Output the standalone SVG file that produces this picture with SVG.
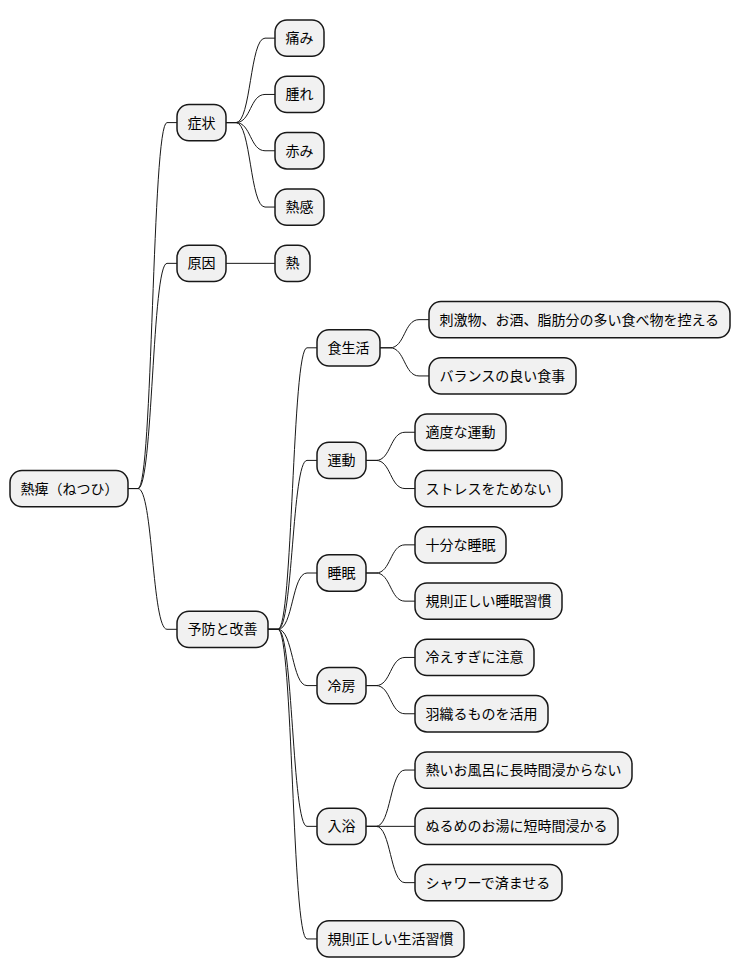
<svg xmlns="http://www.w3.org/2000/svg" width="740" height="978" viewBox="0 0 740 978">
<style>
.n rect{fill:#F1F1F1;stroke:#181818;stroke-width:1.5}
.n text{font-family:"Noto Sans CJK JP","Noto Sans",sans-serif;font-size:14px;fill:#000}
#connectors path{fill:none;stroke:#181818;stroke-width:1}
</style>
<rect width="740" height="978" fill="#FFFFFF"/>
<g id="connectors">
<path d="M128,488.55 L138,488.55 C153,488.55 152,122.6 167,122.6 L177,122.6"/>
<path d="M128,488.55 L138,488.55 C153,488.55 152,263.35 167,263.35 L177,263.35"/>
<path d="M128,488.55 L138,488.55 C153,488.55 152,629.3 167,629.3 L177,629.3"/>
<path d="M226,122.6 L236,122.6 C251,122.6 250,38.15 265,38.15 L275,38.15"/>
<path d="M226,122.6 L236,122.6 C251,122.6 250,94.45 265,94.45 L275,94.45"/>
<path d="M226,122.6 L236,122.6 C251,122.6 250,150.75 265,150.75 L275,150.75"/>
<path d="M226,122.6 L236,122.6 C251,122.6 250,207.05 265,207.05 L275,207.05"/>
<path d="M226,263.35 L275,263.35"/>
<path d="M268,629.3 L278,629.3 C293,629.3 292,347.8 307,347.8 L317,347.8"/>
<path d="M268,629.3 L278,629.3 C293,629.3 292,460.4 307,460.4 L317,460.4"/>
<path d="M268,629.3 L278,629.3 C293,629.3 292,573 307,573 L317,573"/>
<path d="M268,629.3 L278,629.3 C293,629.3 292,685.6 307,685.6 L317,685.6"/>
<path d="M268,629.3 L278,629.3 C293,629.3 292,826.35 307,826.35 L317,826.35"/>
<path d="M268,629.3 L278,629.3 C293,629.3 292,938.95 307,938.95 L317,938.95"/>
<path d="M380,347.8 L390,347.8 C405,347.8 404,319.65 419,319.65 L429,319.65"/>
<path d="M380,347.8 L390,347.8 C405,347.8 404,375.95 419,375.95 L429,375.95"/>
<path d="M366,460.4 L376,460.4 C391,460.4 390,432.25 405,432.25 L415,432.25"/>
<path d="M366,460.4 L376,460.4 C391,460.4 390,488.55 405,488.55 L415,488.55"/>
<path d="M366,573 L376,573 C391,573 390,544.85 405,544.85 L415,544.85"/>
<path d="M366,573 L376,573 C391,573 390,601.15 405,601.15 L415,601.15"/>
<path d="M366,685.6 L376,685.6 C391,685.6 390,657.45 405,657.45 L415,657.45"/>
<path d="M366,685.6 L376,685.6 C391,685.6 390,713.75 405,713.75 L415,713.75"/>
<path d="M366,826.35 L376,826.35 C391,826.35 390,770.05 405,770.05 L415,770.05"/>
<path d="M366,826.35 L415,826.35"/>
<path d="M366,826.35 L376,826.35 C391,826.35 390,882.65 405,882.65 L415,882.65"/>
</g>
<g id="root" class="n"><rect x="10" y="470.4" width="118" height="36.3" rx="12"/><text x="20.5" y="493.5">熱痺（ねつひ）</text></g>
<g id="n1" class="n"><rect x="177" y="104.45" width="49" height="36.3" rx="12"/><text x="187.5" y="127.6">症状</text></g>
<g id="n1a" class="n"><rect x="275" y="20" width="49" height="36.3" rx="12"/><text x="285.5" y="43.1">痛み</text></g>
<g id="n1b" class="n"><rect x="275" y="76.3" width="49" height="36.3" rx="12"/><text x="285.5" y="99.4">腫れ</text></g>
<g id="n1c" class="n"><rect x="275" y="132.6" width="49" height="36.3" rx="12"/><text x="285.5" y="155.7">赤み</text></g>
<g id="n1d" class="n"><rect x="275" y="188.9" width="49" height="36.3" rx="12"/><text x="285.5" y="212">熱感</text></g>
<g id="n2" class="n"><rect x="177" y="245.2" width="49" height="36.3" rx="12"/><text x="187.5" y="268.3">原因</text></g>
<g id="n2a" class="n"><rect x="275" y="245.2" width="35" height="36.3" rx="12"/><text x="285.5" y="268.3">熱</text></g>
<g id="n3" class="n"><rect x="177" y="611.15" width="91" height="36.3" rx="12"/><text x="187.5" y="634.3">予防と改善</text></g>
<g id="n3a" class="n"><rect x="317" y="329.65" width="63" height="36.3" rx="12"/><text x="327.5" y="352.8">食生活</text></g>
<g id="n3a1" class="n"><rect x="429" y="301.5" width="301" height="36.3" rx="12"/><text x="439.5" y="324.6">刺激物、お酒、脂肪分の多い食べ物を控える</text></g>
<g id="n3a2" class="n"><rect x="429" y="357.8" width="147" height="36.3" rx="12"/><text x="439.5" y="380.9">バランスの良い食事</text></g>
<g id="n3b" class="n"><rect x="317" y="442.25" width="49" height="36.3" rx="12"/><text x="327.5" y="465.4">運動</text></g>
<g id="n3b1" class="n"><rect x="415" y="414.1" width="91" height="36.3" rx="12"/><text x="425.5" y="437.2">適度な運動</text></g>
<g id="n3b2" class="n"><rect x="415" y="470.4" width="147" height="36.3" rx="12"/><text x="425.5" y="493.5">ストレスをためない</text></g>
<g id="n3c" class="n"><rect x="317" y="554.85" width="49" height="36.3" rx="12"/><text x="327.5" y="578">睡眠</text></g>
<g id="n3c1" class="n"><rect x="415" y="526.7" width="91" height="36.3" rx="12"/><text x="425.5" y="549.8">十分な睡眠</text></g>
<g id="n3c2" class="n"><rect x="415" y="583" width="147" height="36.3" rx="12"/><text x="425.5" y="606.1">規則正しい睡眠習慣</text></g>
<g id="n3d" class="n"><rect x="317" y="667.45" width="49" height="36.3" rx="12"/><text x="327.5" y="690.6">冷房</text></g>
<g id="n3d1" class="n"><rect x="415" y="639.3" width="119" height="36.3" rx="12"/><text x="425.5" y="662.4">冷えすぎに注意</text></g>
<g id="n3d2" class="n"><rect x="415" y="695.6" width="133" height="36.3" rx="12"/><text x="425.5" y="718.7">羽織るものを活用</text></g>
<g id="n3e" class="n"><rect x="317" y="808.2" width="49" height="36.3" rx="12"/><text x="327.5" y="831.3">入浴</text></g>
<g id="n3e1" class="n"><rect x="415" y="751.9" width="217" height="36.3" rx="12"/><text x="425.5" y="775">熱いお風呂に長時間浸からない</text></g>
<g id="n3e2" class="n"><rect x="415" y="808.2" width="203" height="36.3" rx="12"/><text x="425.5" y="831.3">ぬるめのお湯に短時間浸かる</text></g>
<g id="n3e3" class="n"><rect x="415" y="864.5" width="147" height="36.3" rx="12"/><text x="425.5" y="887.6">シャワーで済ませる</text></g>
<g id="n3f" class="n"><rect x="317" y="920.8" width="147" height="36.3" rx="12"/><text x="327.5" y="943.9">規則正しい生活習慣</text></g>
</svg>
